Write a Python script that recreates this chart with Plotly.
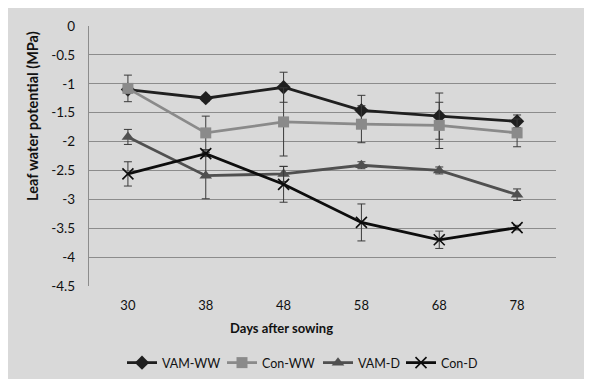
import plotly.graph_objects as go

days = ["30", "38", "48", "58", "68", "78"]
vam_ww = [-1.10, -1.25, -1.06, -1.46, -1.56, -1.65]
vam_ww_err = [0.05, 0.05, 0.26, 0.26, 0.40, 0.11]
con_ww = [-1.08, -1.85, -1.66, -1.70, -1.72, -1.85]
con_ww_err = [0.23, 0.29, 0.59, 0.32, 0.40, 0.24]
vam_d = [-1.92, -2.59, -2.56, -2.41, -2.50, -2.92]
vam_d_err = [0.13, 0.40, 0.13, 0.06, 0.06, 0.10]
con_d = [-2.56, -2.21, -2.74, -3.40, -3.70, -3.49]
con_d_err = [0.21, 0.05, 0.31, 0.32, 0.15, 0.04]
y_ticks = [0, -0.5, -1, -1.5, -2, -2.5, -3, -3.5, -4, -4.5]
y_tick_text = ["0", "-0.5", "-1", "-1.5", "-2", "-2.5", "-3", "-3.5", "-4", "-4.5"]

series = [
    ("VAM-WW", vam_ww, vam_ww_err, "#1f1f1f", "diamond", 11, 55),
    ("Con-WW", con_ww, con_ww_err, "#8a8a8a", "square", 11, 51),
    ("VAM-D", vam_d, vam_d_err, "#505050", "triangle-up", 11, 38),
    ("Con-D", con_d, con_d_err, "#0d0d0d", "x-thin-open", 11, 45),
]

fig = go.Figure()
for name, vals, errs, color, sym, size, lw in series:
    marker = dict(symbol=sym, size=size, color=color)
    if sym.startswith("x-thin"):
        marker["line"] = dict(color=color, width=1.6)
    fig.add_trace(go.Scatter(
        x=days, y=vals, name=name, mode="lines+markers",
        line=dict(color=color, width=2.8),
        marker=marker, legendwidth=lw,
        error_y=dict(type="data", array=errs, visible=True,
                     color="#3a3a3a", thickness=1, width=4),
    ))

# figure sits at (8, 8) on the page because of the body margin
W, H = 584, 371
L, R, T, B = 81, 36, 18, 93
pw, ph = W - L - R, H - T - B

fig.update_layout(
    width=W, height=H,
    margin=dict(l=L, r=R, t=T, b=B, autoexpand=False),
    paper_bgcolor="#d9d9d9",
    plot_bgcolor="#d9d9d9",
    font=dict(family="Lato, Open Sans, sans-serif", size=13, color="#111111"),
    showlegend=True,
    legend=dict(orientation="h", x=(114 - L) / pw, xanchor="left",
                y=-(355 - (T + ph)) / ph, yanchor="middle",
                bgcolor="rgba(0,0,0,0)", font=dict(size=12.5),
                itemwidth=30, tracegroupgap=0),
    xaxis=dict(type="category", range=[-0.5, 5.5], showgrid=False,
               showline=False, ticks="", ticklabelstandoff=10,
               tickfont=dict(size=13), automargin=False),
    yaxis=dict(range=[-4.5, 0], tickvals=y_ticks, ticktext=y_tick_text,
               showgrid=True, gridcolor="#8c8c8c", gridwidth=1.3,
               showline=True, linecolor="#8c8c8c", linewidth=1.3,
               zeroline=False, ticks="", ticklabelstandoff=10,
               tickfont=dict(size=13.5), automargin=False),
    annotations=[
        dict(text="<b>Days after sowing</b>", xref="paper", yref="paper",
             x=(273 - L) / pw, y=-(320 - (T + ph)) / ph,
             xanchor="center", yanchor="middle", showarrow=False,
             font=dict(size=13)),
        dict(text="<b>Leaf water potential (MPa)</b>", xref="paper", yref="paper",
             x=(24 - L) / pw, y=1 - (108 - T) / ph, textangle=-90,
             xanchor="center", yanchor="middle", showarrow=False,
             font=dict(size=14.5)),
    ],
)

fig.write_html("out.html")
